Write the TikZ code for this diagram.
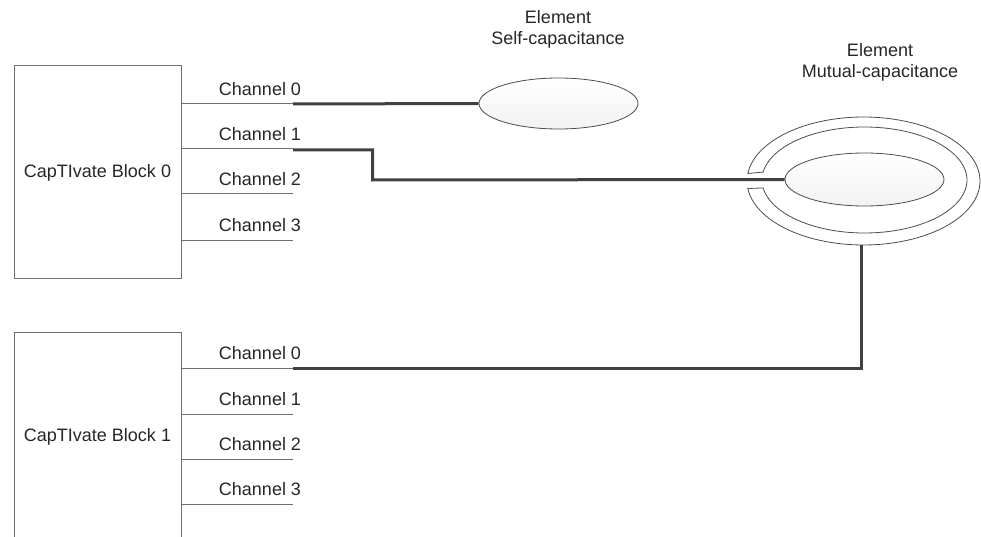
\documentclass[tikz,border=0pt]{standalone}
\usepackage{fontspec}
\setmainfont{Liberation Sans}
\usetikzlibrary{shapes.geometric}
\definecolor{thinline}{HTML}{707070}
\definecolor{thickline}{HTML}{404040}
\tikzset{
  blockbox/.style={draw=thinline, line width=1pt, minimum width=167pt, minimum height=212pt, inner sep=0pt},
  chanwire/.style={draw=thinline, line width=1pt},
  chanlabel/.style={font=\fontsize{18}{21}\selectfont, inner sep=0pt, text=black!85},
  elemlabel/.style={font=\fontsize{18}{21}\selectfont, inner sep=0pt, align=center, text=black!85},
  wire/.style={draw=thickline, line width=3pt},
  padshape/.style={ellipse, draw=black!70, line width=0.8pt, inner sep=0pt, shading=axis, top color=white, bottom color=black!5},
  ringline/.style={draw=black!70, line width=0.8pt, fill=white}
}
\begin{document}
\begin{tikzpicture}[x=1pt,y=-1pt]
\useasboundingbox (0,0) rectangle (981,537);
% Block 0
\node[blockbox] (b0) at (97.5,172) {};
\node[chanlabel] (b0t) at (97.5,173) {CapTIvate Block 0};
% Block 1 (open at the bottom)
\coordinate (b1bl) at (14,537);
\coordinate (b1tl) at (14,332);
\coordinate (b1tr) at (181,332);
\coordinate (b1br) at (181,537);
\draw[chanwire] (b1bl) -- (b1tl) -- (b1tr) -- (b1br);
\node[chanlabel] (b1t) at (97.5,437) {CapTIvate Block 1};
% channel stubs block 0
\foreach \i/\y in {0/104,1/149,2/194,3/240}{
  \coordinate (a\i s) at (181,\y);
  \coordinate (a\i e) at (293,\y);
  \draw[chanwire] (a\i s) -- (a\i e);
  \node[chanlabel] (a\i l) at (260,\y-15) {Channel \i};
}
% channel stubs block 1
\foreach \i/\y in {0/368,1/414,2/459,3/504}{
  \coordinate (c\i s) at (181,\y);
  \coordinate (c\i e) at (293,\y);
  \draw[chanwire] (c\i s) -- (c\i e);
  \node[chanlabel] (c\i l) at (260,\y-15) {Channel \i};
}
% self-capacitance element
\node[padshape, minimum width=159pt, minimum height=51pt] (self) at (558.5,103.5) {};
\node[elemlabel] (selfl) at (558,29) {Element\\Self-capacitance};
% mutual-capacitance ring (open at the left)
\path[ringline]
  plot[domain=186.76:533.24, samples=120] ({863.5+116.5*cos(\x)},{181+64*sin(\x)})
  -- plot[domain=531.4:188.6, samples=120] ({864.5+102.5*cos(\x)},{180+53*sin(\x)})
  -- cycle;
\coordinate (ringbot) at (861,245);
\node[padshape, minimum width=159pt, minimum height=53pt] (mutual) at (864.5,179.5) {};
\node[elemlabel] (mutl) at (880,62) {Element\\Mutual-capacitance};
% thick wires
\draw[wire] (a0e) -- (self.west);
\coordinate (k1) at (372.5,150);
\coordinate (k2) at (372.5,180);
\draw[wire] (a1e) ++(0,1) -- (k1) -- (k2) -- (mutual.west);
\coordinate (k3) at (861,368);
\draw[wire] (ringbot) -- (k3) -- (c0e);
\end{tikzpicture}
\end{document}
